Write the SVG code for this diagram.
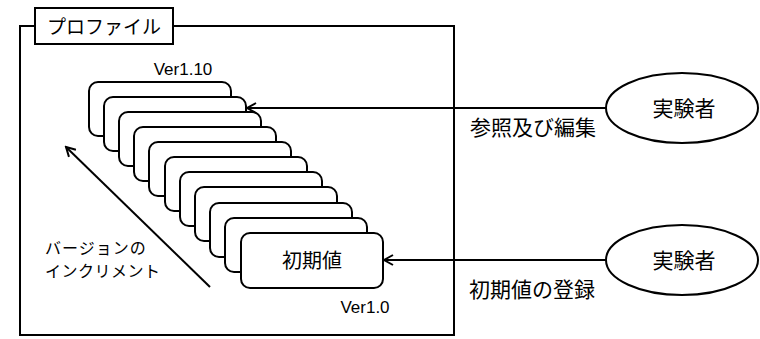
<svg xmlns="http://www.w3.org/2000/svg" width="760" height="339" viewBox="0 0 760 339">
<style>
.s{fill:#fff;stroke:#000;stroke-width:2}
.l{fill:none;stroke:#000;stroke-width:2}
.t{font-family:"Noto Sans CJK JP","Liberation Sans",sans-serif;fill:#000}
.v{font-family:"Liberation Sans",sans-serif;font-size:17px;fill:#000}
</style>
<defs>
<marker id="a" markerWidth="12" markerHeight="12" refX="10" refY="6" orient="auto" markerUnits="userSpaceOnUse">
<path d="M1,1 L10,6 L1,11" fill="none" stroke="#000" stroke-width="2"/>
</marker>
</defs>
<g id="profile">
<rect class="l" x="20" y="26" width="434" height="309"/>
<rect class="s" x="35" y="8" width="138" height="36"/>
<text class="t" x="104" y="34" font-size="19" text-anchor="middle">プロファイル</text>
</g>
<g id="versions">
<rect class="s" x="89" y="82" width="142" height="54" rx="9"/>
<rect class="s" x="104" y="97" width="142" height="54" rx="9"/>
<rect class="s" x="119" y="112" width="142" height="54" rx="9"/>
<rect class="s" x="134" y="127" width="142" height="54" rx="9"/>
<rect class="s" x="149" y="142" width="142" height="54" rx="9"/>
<rect class="s" x="165" y="157" width="142" height="54" rx="9"/>
<rect class="s" x="180" y="172" width="142" height="54" rx="9"/>
<rect class="s" x="195" y="187" width="142" height="54" rx="9"/>
<rect class="s" x="210" y="203" width="142" height="54" rx="9"/>
<rect class="s" x="225" y="218" width="142" height="54" rx="9"/>
<rect class="s" x="241" y="233" width="142" height="55" rx="9"/>
<text class="t" x="312" y="268" font-size="20" text-anchor="middle">初期値</text>
<text class="v" x="183" y="75" text-anchor="middle">Ver1.10</text>
<text class="v" x="365" y="313" text-anchor="middle">Ver1.0</text>
</g>
<g id="user1">
<ellipse class="s" cx="682" cy="108" rx="76" ry="35"/>
<text class="t" x="684" y="116" font-size="21" text-anchor="middle">実験者</text>
</g>
<g id="user2">
<ellipse class="s" cx="682" cy="260" rx="76" ry="35"/>
<text class="t" x="684" y="268" font-size="21" text-anchor="middle">実験者</text>
</g>
<g id="connectors">
<line class="l" x1="606" y1="108" x2="247" y2="108" marker-end="url(#a)"/>
<line class="l" x1="606" y1="260" x2="384" y2="260" marker-end="url(#a)"/>
<line class="l" x1="210" y1="287" x2="66" y2="147" marker-end="url(#a)"/>
</g>
<g id="labels">
<text class="t" x="533" y="135" font-size="21" text-anchor="middle">参照及び編集</text>
<text class="t" x="532" y="297" font-size="21" text-anchor="middle">初期値の登録</text>
<text class="t" x="45" y="254" font-size="16" letter-spacing="1">バージョンの</text>
<text class="t" x="45" y="277" font-size="16" letter-spacing="0.5">インクリメント</text>
</g>
</svg>
